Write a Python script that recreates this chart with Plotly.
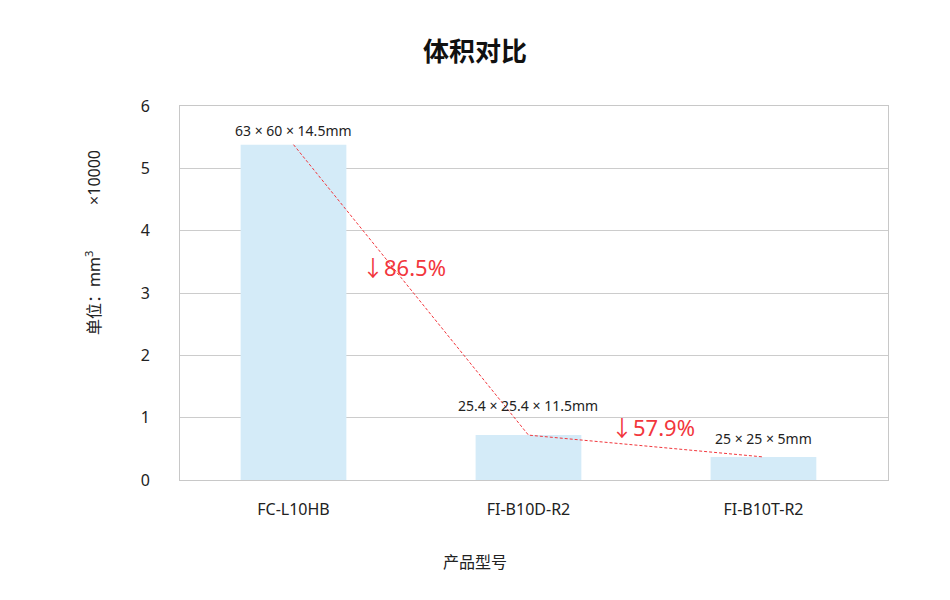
import plotly.graph_objs as go

# data
models = ["FC-L10HB", "FI-B10D-R2", "FI-B10T-R2"]
volumes = [5.38, 0.72, 0.37]          # x10000 mm^3
sizes = ["63 × 60 × 14.5mm", "25.4 × 25.4 × 11.5mm", "25 × 25 × 5mm"]
drops = ["↓86.5%", "↓57.9%"]

FONT = "Noto Sans, Noto Sans CJK SC, sans-serif"
RED = "#f2363c"

bars = go.Bar(
    x=[0, 1, 2], y=volumes,
    width=0.45,
    marker=dict(color="#d4ebf8", line=dict(width=0)),
    hoverinfo="skip",
)

trend = go.Scatter(
    x=[0, 1, 2], y=volumes,
    mode="lines",
    line=dict(color=RED, width=1, dash="3px,2px"),
    hoverinfo="skip",
)

annotations = []
label_shift = [3, 18, 7]
for i, s in enumerate(sizes):
    annotations.append(dict(
        x=i, y=volumes[i], xref="x", yref="y",
        text=s, showarrow=False, yanchor="bottom", yshift=label_shift[i],
        font=dict(size=14, color="#222222", family=FONT),
    ))

# percentage drops sit between the bars
drop_pos = [(0.47, 3.42), (1.53, 0.85)]
for d, (px, py) in zip(drops, drop_pos):
    annotations.append(dict(
        x=px, y=py, xref="x", yref="y",
        text=d, showarrow=False,
        font=dict(size=22, color=RED, family=FONT),
    ))

# y axis title, placed by hand (pixel position -> paper coords)
annotations.append(dict(
    x=(93 - 180) / 708, y=(480 - 243) / 374, xref="paper", yref="paper",
    xanchor="center", yanchor="middle",
    text="单位：mm<sup>3</sup>" + "&nbsp;" * 11 + "×10000",
    showarrow=False, textangle=-90,
    font=dict(size=16, color="#222222", family=FONT),
))

# x axis title is centred on the page, not on the plot area
annotations.append(dict(
    x=(475 - 180) / 708, y=-82 / 374, xref="paper", yref="paper",
    xanchor="center", yanchor="middle",
    text="产品型号", showarrow=False,
    font=dict(size=16, color="#222222", family=FONT),
))

layout = go.Layout(
    width=950, height=600,
    margin=dict(l=180, r=62, t=106, b=120),
    paper_bgcolor="white", plot_bgcolor="white",
    showlegend=False,
    font=dict(family=FONT, color="#222222"),
    title=dict(
        text="<b>体积对比</b>", x=0.5, xanchor="center",
        y=1 - 52 / 600, yanchor="middle",
        font=dict(size=26, color="#111111", family=FONT),
    ),
    xaxis=dict(
        range=[-0.483, 2.53],
        tickvals=[0, 1, 2], ticktext=models,
        showgrid=False, zeroline=False,
        showline=True, linecolor="#c8c8c8", linewidth=1, mirror=True,
        ticks="", ticklabelstandoff=15,
        tickfont=dict(size=16, color="#222222"),
    ),
    yaxis=dict(
        range=[0, 6], dtick=1,
        showgrid=True, gridcolor="#cccccc", gridwidth=1,
        zeroline=False,
        showline=True, linecolor="#c8c8c8", linewidth=1, mirror=True,
        ticks="", ticklabelstandoff=26,
        tickfont=dict(size=16, color="#222222"),
    ),
    annotations=annotations,
)

fig = go.Figure(data=[bars, trend], layout=layout)
fig.write_html("out.html", config={"displayModeBar": False},
               post_script="document.body.style.margin='0';")
